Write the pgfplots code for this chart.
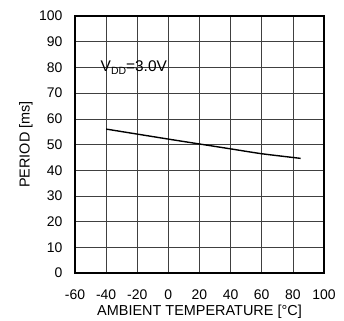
\documentclass[border=0pt]{standalone}
\usepackage{pgfplots}
\pgfplotsset{compat=1.18}
\usepackage{fontspec}
\setmainfont{Liberation Sans}
\begin{document}
\begin{tikzpicture}
\begin{axis}[
  name=ax,
  scale only axis,
  width=249bp, height=257bp,
  xmin=-60, xmax=100, ymin=0, ymax=100,
  xtick={-60,-40,...,100},
  ytick={0,10,...,100},
  grid=major,
  major grid style={draw=black!75, line width=0.6pt},
  axis line style={line width=1.3pt},
  major tick length=0pt,
  tick style={draw=none},
  /pgf/number format/assume math mode=true,
  ticklabel style={font=\fontsize{14}{16}\selectfont},
  yticklabel style={xshift=-9bp},
  xticklabel style={yshift=-13bp},
  xlabel={AMBIENT TEMPERATURE [\textdegree C]},
  ylabel={PERIOD [ms]},
  label style={font=\fontsize{14.5}{16}\selectfont},
  xlabel style={at={(axis description cs:0.5,0)}, anchor=center, yshift=-39bp},
  ylabel style={at={(axis description cs:0,0.5)}, anchor=center, yshift=49bp},
  clip=false,
]
\addplot[black, line width=1.4pt, smooth, tension=0.3] coordinates {
  (-40,56.0) (0,52.1) (20,50.2) (40,48.3) (60,46.4) (85,44.6)
};
\node[anchor=base west, font=\fontsize{15.5}{17}\selectfont, inner sep=0pt]
  at (axis cs:-43.6,78.3) {V\raisebox{-0.3ex}{\fontsize{10.5}{11}\selectfont DD}=3.0V};
\end{axis}
\pgfresetboundingbox
\path ([xshift=-75bp,yshift=-48bp]ax.south west) rectangle ([xshift=20bp,yshift=16bp]ax.north east);
\end{tikzpicture}
\end{document}
